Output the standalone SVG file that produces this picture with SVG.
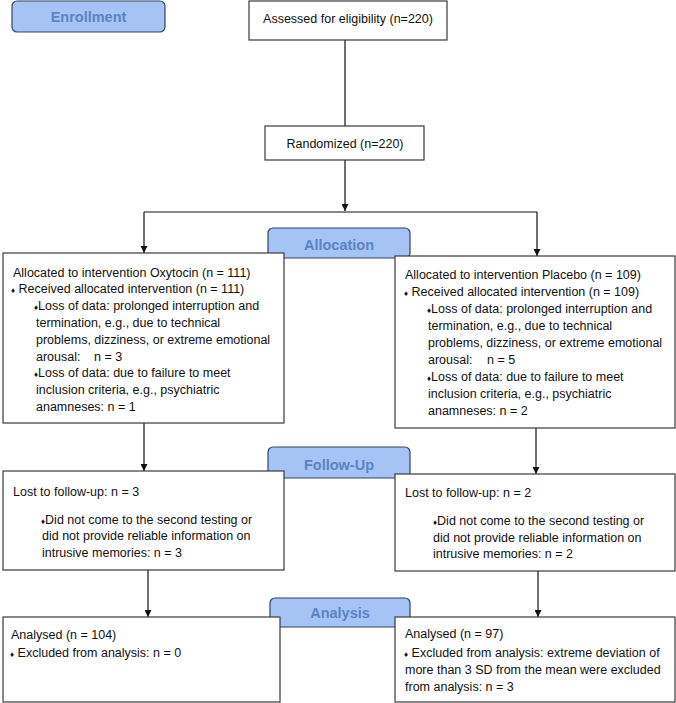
<svg xmlns="http://www.w3.org/2000/svg" width="676" height="703" viewBox="0 0 676 703">
<style>
.bg{fill:#ffffff}
.box{fill:#ffffff;stroke:#3a3a3a;stroke-width:1.2}
.lab{fill:#a6c3f5;stroke:#34435e;stroke-width:1.2}
.labt{font-family:"Liberation Sans","DejaVu Sans",sans-serif;font-weight:bold;font-size:14.5px;fill:#5a84c2;text-anchor:middle}
.t{font-family:"Liberation Sans","DejaVu Sans",sans-serif;font-size:12.5px;fill:#111111}
.b{font-size:8px}
.c{stroke:#111111;stroke-width:1.2;fill:none}
</style>
<defs>
<marker id="ah" viewBox="0 0 10 10" refX="10" refY="5" markerWidth="7" markerHeight="7" markerUnits="userSpaceOnUse" orient="auto">
<path d="M0,0 L10,5 L0,10 z" fill="#111111"/>
</marker>
</defs>
<rect class="bg" x="0" y="0" width="676" height="703"/>

<g id="connectors">
<line class="c" x1="345" y1="40" x2="345" y2="126"/>
<line class="c" x1="345" y1="160" x2="345" y2="211" marker-end="url(#ah)"/>
<line class="c" x1="144" y1="212" x2="537" y2="212"/>
<line class="c" x1="144" y1="212" x2="144" y2="253" marker-end="url(#ah)"/>
<line class="c" x1="537" y1="212" x2="537" y2="256" marker-end="url(#ah)"/>
<line class="c" x1="144" y1="423" x2="144" y2="471" marker-end="url(#ah)"/>
<line class="c" x1="536" y1="428" x2="536" y2="474" marker-end="url(#ah)"/>
<line class="c" x1="148" y1="570" x2="148" y2="617" marker-end="url(#ah)"/>
<line class="c" x1="538" y1="571" x2="538" y2="617" marker-end="url(#ah)"/>
</g>

<g id="enrollment">
<rect class="lab" x="12" y="1" width="153" height="31" rx="5"/>
<text class="labt" x="88.5" y="22">Enrollment</text>
</g>
<g id="allocation-label">
<rect class="lab" x="268" y="228" width="142" height="30" rx="5"/>
<text class="labt" x="339" y="250">Allocation</text>
</g>
<g id="followup-label">
<rect class="lab" x="268" y="447" width="142" height="31" rx="5"/>
<text class="labt" x="339" y="470">Follow-Up</text>
</g>
<g id="analysis-label">
<rect class="lab" x="270" y="598" width="140" height="29" rx="5"/>
<text class="labt" x="340" y="618">Analysis</text>
</g>

<g id="assessed">
<rect class="box" x="249" y="1" width="198" height="39"/>
<text class="t" x="348" y="22.5" text-anchor="middle">Assessed for eligibility (n=220)</text>
</g>
<g id="randomized">
<rect class="box" x="265" y="126" width="159" height="34"/>
<text class="t" x="345" y="147.5" text-anchor="middle">Randomized (n=220)</text>
</g>

<g id="alloc-oxytocin">
<rect class="box" x="3" y="253" width="281" height="170"/>
<text class="t" x="13" y="276.5">Allocated to intervention Oxytocin (n = 111)</text>
<text class="t" x="11" y="293.3"><tspan class="b">♦</tspan> Received allocated intervention (n = 111)</text>
<text class="t" x="34" y="310.1"><tspan class="b">♦</tspan>Loss of data: prolonged interruption and</text>
<text class="t" x="36" y="326.9">termination, e.g., due to technical</text>
<text class="t" x="36" y="343.7">problems, dizziness, or extreme emotional</text>
<text class="t" x="36" y="360.5">arousal:</text>
<text class="t" x="94" y="360.5">n = 3</text>
<text class="t" x="34" y="377.3"><tspan class="b">♦</tspan>Loss of data: due to failure to meet</text>
<text class="t" x="36" y="394.1">inclusion criteria, e.g., psychiatric</text>
<text class="t" x="36" y="410.9">anamneses: n = 1</text>
</g>

<g id="alloc-placebo">
<rect class="box" x="395" y="256" width="280" height="172"/>
<text class="t" x="405" y="279">Allocated to intervention Placebo (n = 109)</text>
<text class="t" x="404" y="296"><tspan class="b">♦</tspan> Received allocated intervention (n = 109)</text>
<text class="t" x="427" y="313"><tspan class="b">♦</tspan>Loss of data: prolonged interruption and</text>
<text class="t" x="428" y="330">termination, e.g., due to technical</text>
<text class="t" x="428" y="347">problems, dizziness, or extreme emotional</text>
<text class="t" x="428" y="364">arousal:</text>
<text class="t" x="487" y="364">n = 5</text>
<text class="t" x="427" y="381"><tspan class="b">♦</tspan>Loss of data: due to failure to meet</text>
<text class="t" x="428" y="398">inclusion criteria, e.g., psychiatric</text>
<text class="t" x="428" y="415">anamneses: n = 2</text>
</g>

<g id="followup-oxytocin">
<rect class="box" x="3" y="471" width="281" height="99"/>
<text class="t" x="13" y="495.5">Lost to follow-up: n = 3</text>
<text class="t" x="41" y="523.5"><tspan class="b">♦</tspan>Did not come to the second testing or</text>
<text class="t" x="42" y="540">did not provide reliable information on</text>
<text class="t" x="42" y="556.5">intrusive memories: n = 3</text>
</g>

<g id="followup-placebo">
<rect class="box" x="395" y="474" width="280" height="97"/>
<text class="t" x="405" y="496.5">Lost to follow-up: n = 2</text>
<text class="t" x="433" y="525"><tspan class="b">♦</tspan>Did not come to the second testing or</text>
<text class="t" x="433" y="541.5">did not provide reliable information on</text>
<text class="t" x="433" y="558">intrusive memories: n = 2</text>
</g>

<g id="analysis-oxytocin">
<rect class="box" x="3" y="617" width="277" height="85"/>
<text class="t" x="11" y="638.5">Analysed (n = 104)</text>
<text class="t" x="10" y="656.5"><tspan class="b">♦</tspan> Excluded from analysis: n = 0</text>
</g>

<g id="analysis-placebo">
<rect class="box" x="395" y="617" width="280" height="85"/>
<text class="t" x="405" y="637.5">Analysed (n = 97)</text>
<text class="t" x="404" y="656.5"><tspan class="b">♦</tspan> Excluded from analysis: extreme deviation of</text>
<text class="t" x="405" y="673.5">more than 3 SD from the mean were excluded</text>
<text class="t" x="405" y="690.5">from analysis: n = 3</text>
</g>
</svg>
